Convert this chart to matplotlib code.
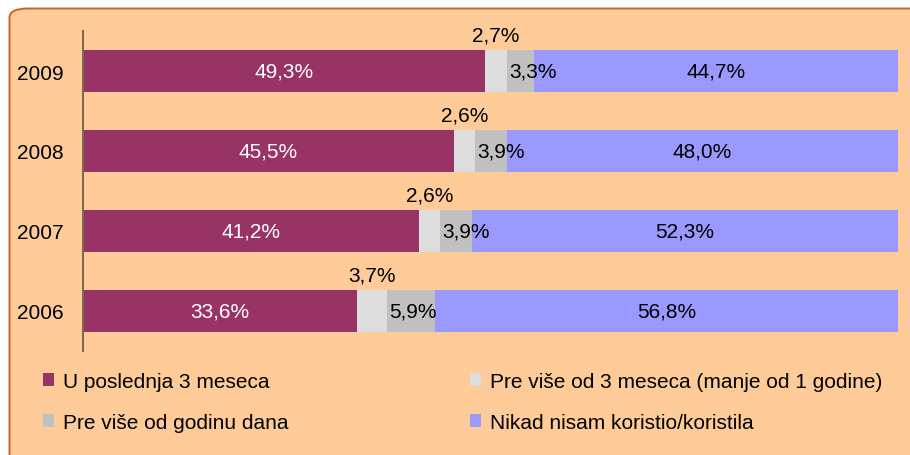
import matplotlib.pyplot as plt
from matplotlib.patches import FancyBboxPatch, Patch

years = ['2006', '2007', '2008', '2009']
last3 = [33.6, 41.2, 45.5, 49.3]
over3 = [3.7, 2.6, 2.6, 2.7]
over_year = [5.9, 3.9, 3.9, 3.3]
never = [56.8, 52.3, 48.0, 44.7]

series_names = ['U poslednja 3 meseca',
                'Pre više od 3 meseca (manje od 1 godine)',
                'Pre više od godinu dana',
                'Nikad nisam koristio/koristila']
colors = ['#993366', '#dddddd', '#c0c0c0', '#9999ff']

plt.rcParams['font.family'] = ['Liberation Sans', 'DejaVu Sans']

W, H = 910, 456
fig = plt.figure(figsize=(W / 100, H / 100), dpi=100)
fig.patch.set_facecolor('white')

# rounded peach panel (cut off at right/bottom like the original)
panel = FancyBboxPatch((9.5 / W, -0.1), 1.2, 1.1 - 9.5 / H,
                       boxstyle='round,pad=0,rounding_size=0.02',
                       transform=fig.transFigure, facecolor='#ffcc99',
                       edgecolor='#c8642d', linewidth=1.4, zorder=-1)
fig.patches.append(panel)

ax = fig.add_axes([83 / W, 1 - 352 / H, (898 - 83) / W, (352 - 32) / H])
ax.set_facecolor('none')
ax.set_zorder(2)

def fmt(v):
    return f'{v:.1f}%'.replace('.', ',')

fs = 15
ypos = list(range(len(years)))
h = 0.52
left = [0.0] * len(years)
all_series = [last3, over3, over_year, never]
for i, vals in enumerate(all_series):
    ax.barh(ypos, vals, left=left, height=h, color=colors[i], zorder=2)
    for y, l, v in zip(ypos, left, vals):
        if i == 0:
            ax.text(l + v / 2, y, fmt(v), ha='center', va='center',
                    color='white', fontsize=fs)
        elif i == 1:
            ax.text(l + v / 2, y + h / 2 + 0.07, fmt(v), ha='center',
                    va='bottom', color='black', fontsize=fs)
        elif i == 2:
            ax.text(l + 0.3, y, fmt(v), ha='left', va='center',
                    color='black', fontsize=fs)
        else:
            ax.text(l + v / 2, y, fmt(v), ha='center', va='center',
                    color='black', fontsize=fs)
    left = [a + b for a, b in zip(left, vals)]

ax.set_xlim(0, 100)
ax.set_ylim(-0.5, len(years) - 0.5)
ax.set_yticks(ypos)
ax.set_yticklabels(years, fontsize=fs)
ax.tick_params(axis='y', length=0, pad=14)
ax.set_xticks([])
for s in ['top', 'right', 'bottom']:
    ax.spines[s].set_visible(False)
ax.spines['left'].set_color('#7f6a4f')
ax.spines['left'].set_linewidth(1.5)

def make_legend(idx, x_px):
    handles = [Patch(facecolor=colors[k], edgecolor='none') for k in idx]
    labels = [series_names[k] for k in idx]
    leg = fig.legend(handles, labels, loc='center left',
                     bbox_to_anchor=(x_px / W, 1 - 403 / H),
                     frameon=False, fontsize=15, handlelength=0.55,
                     handleheight=0.55, handletextpad=0.4,
                     labelspacing=1.05, borderpad=0, borderaxespad=0)
    return leg

make_legend([0, 2], 43)
make_legend([1, 3], 470)

fig.savefig('out.png', dpi=100)
